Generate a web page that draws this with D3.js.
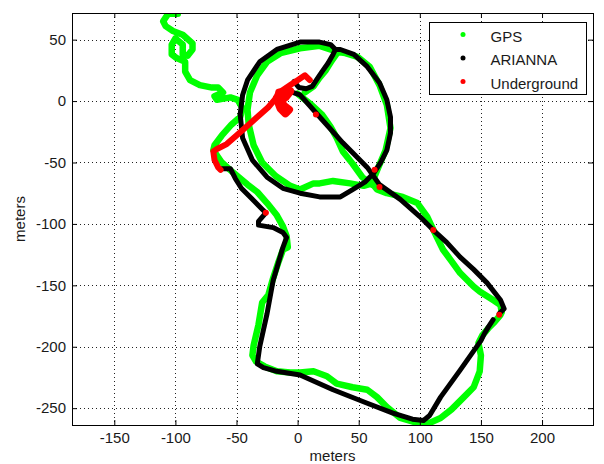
<!DOCTYPE html>
<html>
<head>
<meta charset="utf-8">
<script src="https://cdnjs.cloudflare.com/ajax/libs/d3/7.8.5/d3.min.js"></script>
<style>
body { margin: 0; background: #fff; }
text { font-family: "Liberation Sans", Arial, sans-serif; font-size: 15px; fill: #1a1a1a; }
</style>
</head>
<body>
<div id="chart"></div>
<script>
// tracks in meters
var gpsTrail = [[-98,71],[-106,71],[-110,65],[-108,61],[-102,57],[-94,54],[-86,47],[-86,42],[-90,37],[-94,38],[-94,46],[-100,51],[-103,46],[-103,38],[-99,35],[-92,32],[-92,24],[-88,17],[-80,13],[-70,11],[-65,11],[-61,7],[-68,4],[-66,1],[-55,3],[-49,1],[-45,-6],[-47,-13],[-54,-19],[-62,-28],[-68,-36],[-69,-40],[-62,-50],[-53,-58],[-41,-68],[-33,-74],[-25,-83],[-17,-93],[-12,-102],[-9,-110],[-8,-119],[-12,-121],[-16,-132],[-20,-144],[-24,-158],[-29,-164],[-32,-182],[-36,-199],[-37,-207],[-34,-212],[-27,-216],[-17,-220],[-6,-221],[2,-221],[13,-220],[24,-224],[32,-230],[45,-233],[57,-235],[65,-241],[73,-249],[84,-258],[98,-262],[108,-262],[117,-258],[126,-251],[135,-242],[144,-233],[149,-220],[150,-207],[148,-197],[151,-191],[156,-185],[161,-180],[166,-174],[167,-172],[166,-166],[160,-162],[149,-155],[144,-151],[133,-140],[125,-129],[119,-121],[114,-111],[106,-94],[98,-83],[86,-78],[73,-75],[65,-72],[61,-67]];
var gpsDiagonal = [[0,6],[10,-2],[20,-11],[27,-21],[32,-30],[37,-41],[45,-51],[53,-62],[61,-68]];
var gpsHook = [[6,7],[13,12],[18,19],[23,25],[28,33],[33,40],[39,39],[49,36],[59,28],[67,13],[73,-3],[76,-22],[72,-40],[66,-54],[61,-66]];
var gpsInner = [[33,40],[18,45],[2,43],[-14,39],[-25,32],[-33,21],[-39,7],[-41,-7],[-40,-19],[-36,-36],[-29,-50],[-18,-61],[-6,-69],[2,-72],[13,-67],[18,-67],[29,-65],[43,-67],[54,-69],[61,-67]];

var ariannaLoop = [[-63,-55],[-55,-55],[-51,-63],[-46,-71],[-37,-80],[-29,-88],[-26,-91],[-32,-98],[-32,-101],[-20,-103],[-12,-107],[-9,-111],[-12,-119],[-20,-146],[-25,-173],[-31,-200],[-33,-214],[-28,-217],[-17,-220],[2,-223],[29,-235],[57,-246],[78,-254],[94,-259],[103,-260],[108,-256],[117,-241],[133,-219],[150,-195],[153,-189],[156,-184],[160,-178]];
var ariannaDiagonal = [[165,-173],[169,-169],[166,-162],[155,-148],[144,-137],[133,-127],[122,-115],[111,-105],[100,-94],[84,-80],[67,-68],[57,-54],[37,-34],[19,-14],[2,5],[-4,7]];
var ariannaHook = [[-3,16],[1,11],[7,10],[12,12],[16,18],[20,24],[25,31],[29,38],[31,42]];
var ariannaCircle = [[31,42],[35,42],[46,38],[57,28],[67,15],[73,1],[76,-13],[76,-26],[73,-40],[68,-50],[62,-59],[55,-66],[45,-72],[35,-78],[18,-78],[2,-75],[-12,-71],[-25,-62],[-37,-48],[-45,-30],[-47,-11],[-45,5],[-41,17],[-31,32],[-17,42],[2,48],[18,48],[27,46],[31,42]];

var undergroundPath = [[10,17],[6,21],[0,17],[-6,13],[-12,9],[-16,6],[-18,2],[-24,-5],[-33,-13],[-41,-20],[-50,-28],[-58,-35],[-66,-39],[-69,-41],[-68,-48],[-65,-54],[-63,-56]];
var undergroundBlob = [[-15,7],[-6,8],[-10,3],[-14,0],[-11,-4],[-7,-7],[-10,-10],[-14,-6],[-17,2]];
var undergroundDots = [[-26,-91],[15,-11],[63,-56],[67,-70],[111,-105],[165,-174]];

var xTicks = [-150, -100, -50, 0, 50, 100, 150, 200];
var yTicks = [-250, -200, -150, -100, -50, 0, 50];
var legendLabels = ["GPS", "ARIANNA", "Underground"];
var legendColors = ["#00ff00", "#000000", "#ff0000"];

var svgWidth = 604;
var svgHeight = 464;

var margin = { top: 13, right: 11, bottom: 39, left: 72 };
var width = svgWidth - margin.left - margin.right;
var height = svgHeight - margin.top - margin.bottom;

var svg = d3.select("#chart")
    .append("svg")
    .attr("width", svgWidth)
    .attr("height", svgHeight)
    .style("display", "block");

var chartGroup = svg.append("g")
    .attr("transform", `translate(${margin.left}, ${margin.top})`);

var xScale = d3.scaleLinear().domain([-184.6, 241.7]).range([0, width]);
var yScale = d3.scaleLinear().domain([-263.7, 71.7]).range([height, 0]);

// dotted grid
chartGroup.append("g")
    .selectAll("line")
    .data(xTicks)
    .enter()
    .append("line")
    .attr("x1", d => Math.round(xScale(d)) + 0.5)
    .attr("x2", d => Math.round(xScale(d)) + 0.5)
    .attr("y1", 0)
    .attr("y2", height)
    .attr("stroke", "#222")
    .attr("stroke-dasharray", "1,3");

chartGroup.append("g")
    .selectAll("line")
    .data(yTicks)
    .enter()
    .append("line")
    .attr("y1", d => Math.round(yScale(d)) + 0.5)
    .attr("y2", d => Math.round(yScale(d)) + 0.5)
    .attr("x1", 0)
    .attr("x2", width)
    .attr("stroke", "#222")
    .attr("stroke-dasharray", "1,3");

// tracks
chartGroup.append("clipPath")
    .attr("id", "plotClip")
    .append("rect")
    .attr("width", width)
    .attr("height", height);

var plotGroup = chartGroup.append("g").attr("clip-path", "url(#plotClip)");

var line = d3.line()
    .x(d => xScale(d[0]))
    .y(d => yScale(d[1]));

function drawTrack(points, color, w) {
    plotGroup.append("path")
        .datum(points)
        .attr("d", line)
        .attr("fill", "none")
        .attr("stroke", color)
        .attr("stroke-width", w)
        .attr("stroke-linejoin", "round")
        .attr("stroke-linecap", "round");
}

[gpsTrail, gpsDiagonal, gpsHook, gpsInner].forEach(p => drawTrack(p, "#00ff00", 6.5));
[ariannaLoop, ariannaDiagonal, ariannaHook, ariannaCircle].forEach(p => drawTrack(p, "#000000", 5));
drawTrack(undergroundPath, "#ff0000", 6);
drawTrack(undergroundBlob, "#ff0000", 8);

plotGroup.append("g")
    .selectAll("circle")
    .data(undergroundDots)
    .enter()
    .append("circle")
    .attr("cx", d => xScale(d[0]))
    .attr("cy", d => yScale(d[1]))
    .attr("r", 3)
    .attr("fill", "#ff0000");

// axes, ticks pointing inward
var fmt = d => String(d);

var bottomAxis = chartGroup.append("g")
    .attr("transform", `translate(0, ${height})`)
    .call(d3.axisBottom(xScale).tickValues(xTicks).tickFormat(fmt).tickSize(-5).tickPadding(7.5));
var leftAxis = chartGroup.append("g")
    .call(d3.axisLeft(yScale).tickValues(yTicks).tickFormat(fmt).tickSize(-5).tickPadding(6));
var topAxis = chartGroup.append("g")
    .call(d3.axisTop(xScale).tickValues(xTicks).tickFormat("").tickSize(-5));
var rightAxis = chartGroup.append("g")
    .attr("transform", `translate(${width}, 0)`)
    .call(d3.axisRight(yScale).tickValues(yTicks).tickFormat("").tickSize(-5));

[bottomAxis, leftAxis, topAxis, rightAxis].forEach(function(a) {
    a.select(".domain").remove();
    a.selectAll("line").attr("stroke", "#000");
    a.selectAll("text").attr("fill", "#1a1a1a").style("font-size", "15px")
        .style("font-family", '"Liberation Sans", Arial, sans-serif');
});

chartGroup.append("rect")
    .attr("x", 0.5)
    .attr("y", 0.5)
    .attr("width", width)
    .attr("height", height)
    .attr("fill", "none")
    .attr("stroke", "#000");

// axis labels
chartGroup.append("text")
    .attr("x", width / 2)
    .attr("y", height + 36)
    .attr("text-anchor", "middle")
    .text("meters");

chartGroup.append("text")
    .attr("transform", "rotate(-90)")
    .attr("x", -height / 2)
    .attr("y", 0 - margin.left + 25)
    .attr("text-anchor", "middle")
    .text("meters");

// legend
var legend = svg.append("g").attr("transform", "translate(429.5, 22.5)");
legend.append("rect")
    .attr("width", 157)
    .attr("height", 72)
    .attr("fill", "#fff")
    .attr("stroke", "#000");

var items = legend.selectAll(".item")
    .data(legendLabels)
    .enter()
    .append("g")
    .attr("transform", (d, i) => `translate(0, ${12 + i * 23.5})`);

items.append("circle")
    .attr("cx", 33.5)
    .attr("cy", 0)
    .attr("r", 2.5)
    .attr("fill", (d, i) => legendColors[i]);

items.append("text")
    .attr("x", 61)
    .attr("y", 7)
    .text(d => d);
</script>
</body>
</html>
